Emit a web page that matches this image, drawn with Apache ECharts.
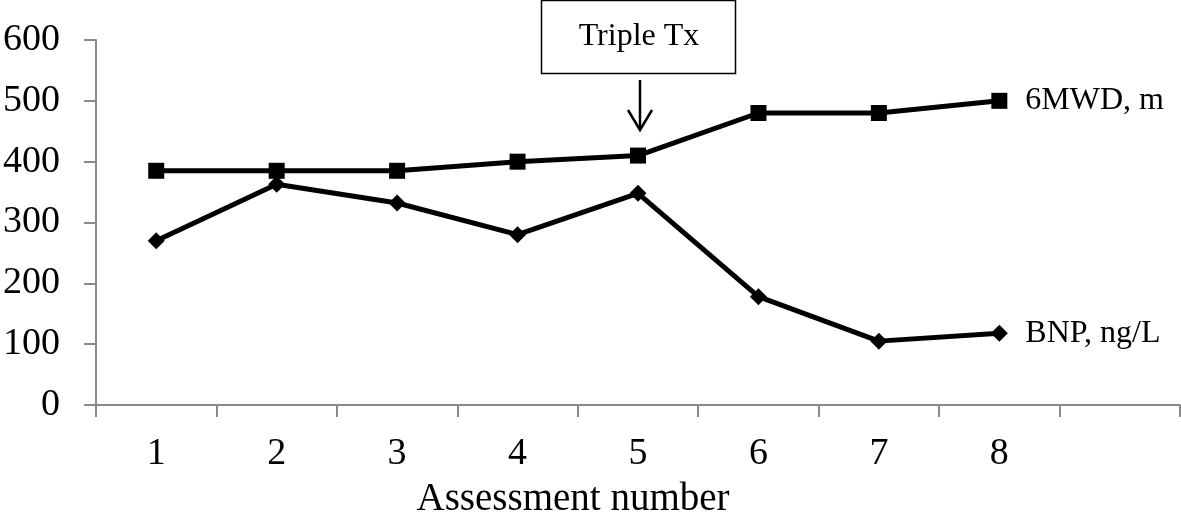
<!DOCTYPE html>
<html>
<head>
<meta charset="utf-8">
<script src="https://cdn.jsdelivr.net/npm/echarts@6/dist/echarts.min.js"></script>
<style>
html,body{margin:0;padding:0;background:#fff;}
#c{width:1181px;height:519px;}
</style>
</head>
<body>
<div id="c"></div>
<script>
var categories = ['1','2','3','4','5','6','7','8',''];
var sixMWD = [385, 385, 385, 400, 410, 480, 480, 500];
var bnp = [270, 363, 332, 280, 348, 178, 105, 118];
var yTicks = [0, 100, 200, 300, 400, 500, 600];
var seriesNames = ['6MWD, m', 'BNP, ng/L'];
var xTitle = 'Assessment number';
var annotation = 'Triple Tx';

var FONT = '"Liberation Serif", "Times New Roman", serif';
var axisGray = '#8a8a8a';
var chart = echarts.init(document.getElementById('c'));

function endLabel() {
  return {show: true, formatter: '{a}', distance: 26, color: '#000', fontFamily: FONT, fontSize: 32};
}

chart.setOption({
  animation: false,
  backgroundColor: '#fff',
  grid: {left: 95, right: 1, top: 40, bottom: 114, containLabel: false},
  xAxis: {
    type: 'category',
    data: categories,
    boundaryGap: true,
    axisLine: {show: true, lineStyle: {color: axisGray, width: 2}},
    axisTick: {show: true, interval: 0, length: 12, lineStyle: {color: axisGray, width: 2}},
    axisLabel: {interval: 0, margin: 30, color: '#000', fontFamily: FONT, fontSize: 38},
    splitLine: {show: false}
  },
  yAxis: {
    type: 'value',
    min: yTicks[0],
    max: yTicks[yTicks.length - 1],
    interval: 100,
    axisLine: {show: true, lineStyle: {color: axisGray, width: 2}},
    axisTick: {show: true, length: 12, lineStyle: {color: axisGray, width: 2}},
    axisLabel: {margin: 36, color: '#000', fontFamily: FONT, fontSize: 38},
    splitLine: {show: false}
  },
  series: [
    {
      name: seriesNames[0],
      type: 'line',
      data: sixMWD,
      symbol: 'rect',
      symbolSize: 16,
      lineStyle: {color: '#000', width: 5},
      itemStyle: {color: '#000'},
      endLabel: endLabel()
    },
    {
      name: seriesNames[1],
      type: 'line',
      data: bnp,
      symbol: 'diamond',
      symbolSize: 17,
      lineStyle: {color: '#000', width: 5},
      itemStyle: {color: '#000'},
      endLabel: endLabel()
    }
  ],
  graphic: [
    {
      type: 'rect',
      shape: {x: 541.5, y: 0.5, width: 194, height: 73},
      style: {fill: '#fff', stroke: '#000', lineWidth: 1.5}
    },
    {
      type: 'text',
      x: 639, y: 37,
      style: {text: annotation, fill: '#000', font: '32px ' + FONT, textAlign: 'center', textVerticalAlign: 'middle'}
    },
    {
      type: 'polyline',
      shape: {points: [[640, 80], [640, 129]]},
      style: {stroke: '#000', lineWidth: 2.5, fill: null}
    },
    {
      type: 'polyline',
      shape: {points: [[628, 110], [640, 130], [652, 110]]},
      style: {stroke: '#000', lineWidth: 2.5, fill: null}
    },
    {
      type: 'text',
      x: 573, y: 500,
      style: {text: xTitle, fill: '#000', font: '39px ' + FONT, textAlign: 'center', textVerticalAlign: 'middle'}
    }
  ]
});
</script>
</body>
</html>
